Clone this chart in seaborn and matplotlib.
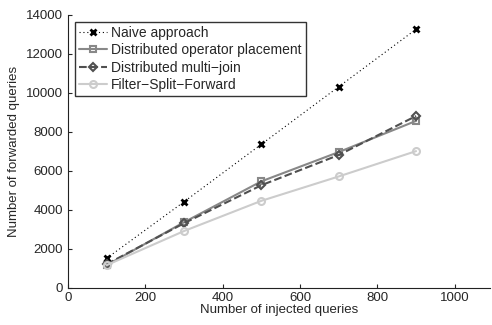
import pandas as pd
import numpy as np
import matplotlib.pyplot as plt
import seaborn as sns

# data
injected = [100, 300, 500, 700, 900]
naive = [1500, 4400, 7350, 10300, 13250]
op_placement = [1150, 3350, 5450, 6950, 8550]
multi_join = [1200, 3300, 5250, 6800, 8800]
fsf = [1150, 2900, 4450, 5700, 7000]
labels = ['Naive approach', 'Distributed operator placement',
          'Distributed multi\u2212join', 'Filter\u2212Split\u2212Forward']

sns.set_style('ticks')
plt.rcParams['font.family'] = ['Liberation Sans', 'DejaVu Sans']

series = [naive, op_placement, multi_join, fsf]
colors = ['#000000', '#888888', '#505050', '#cccccc']
styles = [(0, (1, 2.5)), '-', '--', '-']
marks = ['x', 's', 'D', 'o']
widths = [0.8, 1.5, 1.5, 1.5]
msizes = [4, 5, 4.5, 5]

fig, ax = plt.subplots(figsize=(4.92, 3.25), dpi=100)
for vals, lab, c, ls, m, lw, ms in zip(series, labels, colors, styles, marks, widths, msizes):
    sns.lineplot(x=injected, y=vals, label=lab, color=c, linestyle=ls,
                 marker=m, markersize=ms, markerfacecolor='none',
                 markeredgecolor=c, markeredgewidth=1.5 if m != 'x' else 2,
                 linewidth=lw, ax=ax)

ax.set_xlim(0, 1090)
ax.set_ylim(0, 14000)
ax.set_xticks([0, 200, 400, 600, 800, 1000])
ax.set_yticks(range(0, 14001, 2000))
ax.tick_params(direction='in', length=3, labelsize=9.5)
ax.set_xlabel('Number of injected queries', fontsize=9.5, labelpad=0)
ax.set_ylabel('Number of forwarded queries', fontsize=9.5)
sns.despine(ax=ax)
ax.spines['left'].set_color('#222222')
ax.spines['bottom'].set_color('#222222')

leg = ax.legend(loc='upper left', bbox_to_anchor=(0.0, 1.0), fontsize=10,
                frameon=True, fancybox=False, edgecolor='#000000',
                handlelength=2.0, handletextpad=0.3, borderpad=0.3,
                labelspacing=0.25)
leg.get_frame().set_linewidth(1.0)

fig.subplots_adjust(left=0.138, right=0.995, top=0.955, bottom=0.115)
fig.savefig('out.png', dpi=100)
